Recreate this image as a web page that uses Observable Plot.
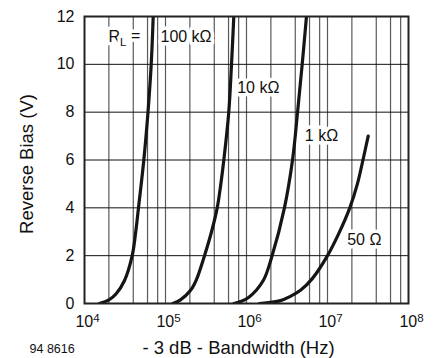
<!DOCTYPE html>
<html>
<head>
<meta charset="utf-8">
<script src="https://cdn.jsdelivr.net/npm/d3@7"></script>
<script src="https://cdn.jsdelivr.net/npm/@observablehq/plot@0.6"></script>
<style>
  html, body { margin: 0; padding: 0; background: #fff; }
  #chart svg { display: block; }
</style>
</head>
<body>
<div id="chart"></div>
<script>
// Curve data: -3 dB bandwidth (Hz) vs reverse bias (V) for each load resistance
const freq100k = [1.53e4, 2.0e4, 2.46e4, 3.12e4, 3.88e4, 4.26e4, 4.64e4, 5.4e4, 6.08e4, 6.66e4, 7.05e4];
const volt100k = [0, 0.15, 0.41, 0.96, 2, 2.91, 4, 6, 8, 10, 12];

const freq10k = [1.23e5, 1.53e5, 2.04e5, 2.41e5, 3.03e5, 3.7e5, 4.35e5, 4.82e5, 5.25e5, 6.04e5, 6.53e5, 6.97e5];
const volt10k = [0, 0.15, 0.55, 1.0, 2, 3, 4, 5, 6, 8, 10, 12];

const freq1k = [6.97e5, 8.43e5, 1.07e6, 1.61e6, 2.07e6, 2.94e6, 3.7e6, 4.27e6, 4.87e6, 5.5e6];
const volt1k = [0, 0.08, 0.26, 0.96, 2, 4, 6, 8, 10, 12];

const freq50 = [1.447e6, 2.63e6, 3.49e6, 4.64e6, 6.53e6, 1.0e7, 1.367e7, 1.885e7, 2.34e7, 2.74e7, 3.18e7];
const volt50 = [0, 0.12, 0.3, 0.55, 1.05, 2, 2.9, 4, 5, 6, 7];

const seriesNames = ["100 kΩ", "10 kΩ", "1 kΩ", "50 Ω"];

// Axis ticks and grid
const xTicks = [1e4, 1e5, 1e6, 1e7, 1e8];
const yTicks = [0, 2, 4, 6, 8, 10, 12];
const xGrid = [2e4, 4e4, 6e4, 8e4, 1e5, 2e5, 4e5, 6e5, 8e5, 1e6, 2e6, 4e6, 6e6, 8e6, 1e7, 2e7, 4e7, 6e7, 8e7];
const yGrid = [2, 4, 6, 8, 10];

// Curve labels
const labelText = ["RL =", "100 kΩ", "10 kΩ", "1 kΩ", "50 Ω"];
const labelFreq = [1.98e4, 8.67e4, 7.68e5, 5.25e6, 1.75e7];
const labelVolt = [11.13, 11.13, 9.02, 7.02, 2.66];

const seriesF = [freq100k, freq10k, freq1k, freq50];
const seriesV = [volt100k, volt10k, volt1k, volt50];
const data = [];
seriesNames.forEach((name, i) => {
  seriesF[i].forEach((f, j) => data.push({series: name, f, v: seriesV[i][j]}));
});
const labels = labelText.map((t, i) => ({t, f: labelFreq[i], v: labelVolt[i]}));

const font = "'Liberation Sans', Arial, Helvetica, sans-serif";

const chart = Plot.plot({
  width: 435,
  height: 358,
  marginLeft: 84,
  marginRight: 27,
  marginTop: 16,
  marginBottom: 55,
  style: {fontFamily: font, fontSize: "15px", color: "#111", background: "#fff"},
  x: {type: "log", domain: [1e4, 1e8], ticks: xTicks, tickFormat: d => "10" + Math.round(Math.log10(d)), label: null},
  y: {domain: [0, 12], ticks: yTicks, label: null},
  marks: [
    Plot.ruleX(xGrid, {stroke: "#5a5a5a", strokeWidth: 1.2}),
    Plot.ruleY(yGrid, {stroke: "#111", strokeWidth: 1}),
    Plot.line(data, {x: "f", y: "v", z: "series", curve: "catmull-rom", stroke: "#151515", strokeWidth: 3.2, clip: true}),
    Plot.text(labels, {x: "f", y: "v", text: "t", textAnchor: "start", lineAnchor: "middle", fill: "#111", stroke: "white", strokeWidth: 7, fontSize: 16}),
    Plot.frame({stroke: "#222", strokeWidth: 2}),
    Plot.axisX({ticks: xTicks, tickSize: 0, tickPadding: 12, tickFormat: d => "10" + Math.round(Math.log10(d)), label: null, fontSize: 16}),
    Plot.axisY({ticks: yTicks, tickSize: 0, tickPadding: 10, label: null, fontSize: 16}),
    Plot.text(["Reverse Bias (V)"], {frameAnchor: "left", textAnchor: "middle", lineAnchor: "middle", rotate: -90, dx: -57, dy: 4, fontSize: 18.5, fill: "#111"}),
    Plot.text(["- 3 dB - Bandwidth (Hz)"], {frameAnchor: "bottom", textAnchor: "middle", lineAnchor: "middle", dx: -8, dy: 45, fontSize: 18.5, fill: "#111"}),
    Plot.text(["94 8616"], {frameAnchor: "bottom-left", textAnchor: "start", lineAnchor: "middle", dx: -55, dy: 45, fontSize: 12.5, fill: "#111"})
  ]
});

document.getElementById("chart").appendChild(chart);

// Superscript exponents on the x tick labels
d3.select(chart).selectAll('g[aria-label="x-axis tick label"] text').each(function() {
  const s = this.textContent;
  if (s.startsWith("10") && s.length > 2) {
    const exp = s.slice(2);
    const t = d3.select(this);
    t.text("10");
    t.append("tspan").attr("dy", "-0.45em").attr("font-size", "0.72em").text(exp);
    t.attr("dx", "3");
  }
});
// Subscript L in R_L
d3.select(chart).selectAll("text").each(function() {
  if (this.textContent === "RL =") {
    const t = d3.select(this);
    t.text("R");
    t.append("tspan").attr("dy", "0.3em").attr("font-size", "0.72em").text("L");
    t.append("tspan").attr("dy", "-0.3em").text(" =");
  }
});
</script>
</body>
</html>
